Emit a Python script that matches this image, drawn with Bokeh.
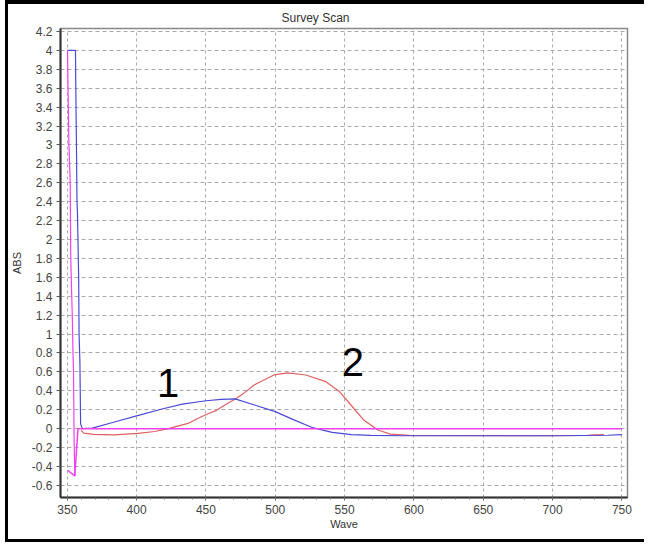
from bokeh.plotting import figure
from bokeh.models import Range1d, FixedTicker, Label
from bokeh.embed import file_html
from bokeh.resources import INLINE

# ---------------- data ----------------
title_text = "Survey Scan"
x_label = "Wave"
y_label = "ABS"

xtick_values = [350, 400, 450, 500, 550, 600, 650, 700, 750]
ytick_labels = ["-0.6", "-0.4", "-0.2", "0", "0.2", "0.4", "0.6", "0.8", "1",
                "1.2", "1.4", "1.6", "1.8", "2", "2.2", "2.4", "2.6", "2.8", "3",
                "3.2", "3.4", "3.6", "3.8", "4", "4.2"]
ytick_values = [float(s) for s in ytick_labels]

# curve 1 (blue)
blue_x = [350.2, 355.9, 356.1, 356.6, 357.0, 357.3, 358.2, 358.5, 359.1, 359.6, 360.8,
          368, 384, 400, 419, 433, 450, 461, 471, 485, 500, 513, 527, 541, 555, 569,
          590, 650, 700, 740, 750]
blue_y = [4.0, 4.0, 3.66, 3.0, 2.4, 2.3, 1.6, 1.0, 0.7, 0.05, 0.0,
          0.005, 0.07, 0.135, 0.21, 0.26, 0.295, 0.31, 0.315, 0.25, 0.18, 0.095, 0.01,
          -0.04, -0.063, -0.072, -0.075, -0.075, -0.075, -0.07, -0.063]

# curve 2 (red)
red_x = [360.0, 362, 369, 384, 401, 413, 423, 437, 443, 451, 457, 467, 471, 476, 485,
         499, 509, 522, 536, 546, 555, 564, 574, 583, 597, 700, 725, 730, 737]
red_y = [-0.02, -0.048, -0.06, -0.065, -0.05, -0.03, 0.0, 0.055, 0.1, 0.155, 0.19,
         0.28, 0.31, 0.36, 0.465, 0.568, 0.59, 0.567, 0.5, 0.396, 0.242, 0.088, -0.014,
         -0.058, -0.072, -0.075, -0.072, -0.065, -0.063]

# baseline (magenta): steep descent branch and main branch
mag_a_x = [350.2, 350.5, 351.2, 352.1, 352.5, 353.2, 353.6, 354.1, 354.5, 354.9, 355.4]
mag_a_y = [4.0, 3.6, 3.0, 2.6, 1.8, 1.4, 1.2, 0.8, 0.6, -0.1, -0.5]
mag_b_x = [350.2, 355.4, 357.7, 400, 500, 600, 700, 750]
mag_b_y = [-0.44, -0.5, 0.0, 0.0, 0.0, 0.0, 0.0, 0.0]

# curve annotations
note_texts = ["1", "2"]
note_x = [422.7, 556.0]
note_y = [0.48, 0.70]

# ---------------- figure ----------------
W, H = 644, 542
p = figure(width=W, height=H,
           x_range=Range1d(345.1, 754.0), y_range=Range1d(-0.728, 4.231),
           output_backend="svg", toolbar_location=None,
           min_border_left=60, min_border_right=17,
           min_border_top=28, min_border_bottom=45)

# outer picture border (left, top, bottom) drawn as element background
p.styles = {
    "background": ("linear-gradient(#000,#000) 5px 0 / 3px 100% no-repeat, "
                   "linear-gradient(#000,#000) 5px 0 / 100% 4px no-repeat, "
                   "linear-gradient(#000,#000) 5px 100% / 100% 3px no-repeat, #fff"),
}
p.border_fill_color = None
p.background_fill_color = "white"

p.title.text = title_text
p.title.align = "left"
p.title.offset = 221
p.title.text_font = "Liberation Sans"
p.title.text_font_size = "12px"
p.title.text_font_style = "normal"
p.title.text_color = "#333333"
p.title.standoff = 7

p.outline_line_color = "#888888"
p.outline_line_width = 1.5

p.xaxis.ticker = FixedTicker(ticks=xtick_values,
                             minor_ticks=list(range(350, 751, 10)))
p.yaxis.ticker = FixedTicker(ticks=ytick_values)
p.yaxis.major_label_overrides = dict(zip(ytick_values, ytick_labels))

p.xaxis.axis_label = x_label
p.yaxis.axis_label = y_label

for ax in (p.xaxis, p.yaxis):
    ax.axis_line_color = "#333333"
    ax.axis_line_width = 2
    ax.major_tick_line_color = "#555555"
    ax.major_tick_out = 4
    ax.major_tick_in = 0
    ax.minor_tick_line_color = "#777777"
    ax.minor_tick_out = 2
    ax.minor_tick_in = 0
    ax.major_label_text_font = "Liberation Sans"
    ax.major_label_text_font_size = "12px"
    ax.major_label_text_color = "#444444"
    ax.major_label_standoff = 5
    ax.axis_label_text_font = "Liberation Sans"
    ax.axis_label_text_font_size = "11px"
    ax.axis_label_text_font_style = "normal"
    ax.axis_label_text_color = "#333333"
p.yaxis.minor_tick_line_color = None
p.yaxis.major_label_standoff = 4
p.yaxis.axis_label_standoff = 6
p.xaxis.major_tick_out = 3
p.xaxis.major_label_standoff = 4
p.xaxis.axis_label_standoff = 1

p.xgrid.grid_line_color = "#aaaaaa"
p.xgrid.grid_line_dash = "3 3"
p.ygrid.grid_line_color = "#aaaaaa"
p.ygrid.grid_line_dash = "4 3"

p.line(red_x, red_y, line_color="#e06060", line_width=1.2)
p.line(blue_x, blue_y, line_color="#4a4ad8", line_width=1.2)
p.line(mag_a_x, mag_a_y, line_color="#f040f0", line_width=1.2)
p.line(mag_b_x, mag_b_y, line_color="#f040f0", line_width=1.5)

for t, lx, ly in zip(note_texts, note_x, note_y):
    p.add_layout(Label(x=lx, y=ly, text=t, text_font="Liberation Sans",
                       text_font_size="40px", text_align="center",
                       text_baseline="alphabetic", text_color="black"))

open("out.html", "w").write(file_html(p, INLINE))
